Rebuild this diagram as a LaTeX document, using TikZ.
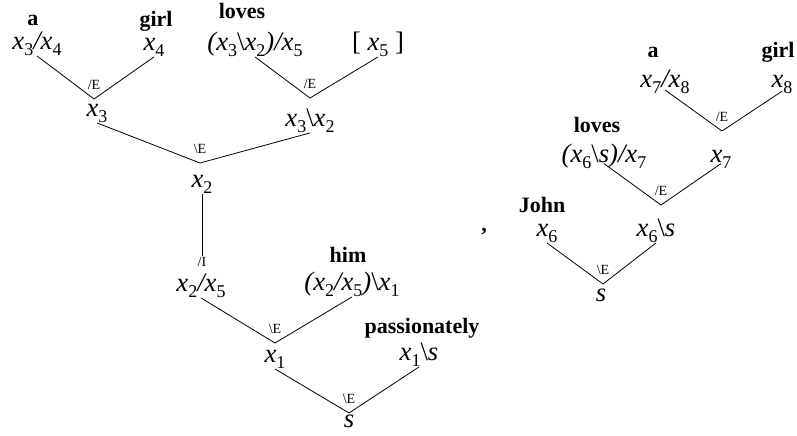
\documentclass[tikz,border=0pt]{standalone}
\usepackage{fontspec}
\setmainfont{Liberation Serif}
\usetikzlibrary{positioning}
\newcommand\sbs[1]{\raisebox{-5pt}{\fontsize{13.5}{14}\selectfont\upshape #1}}
\newcommand\xx[1]{x\sbs{#1}}
\newcommand\bsl{{\upshape\textbackslash}}
\tikzset{frm/.style={font=\fontsize{20}{24}\selectfont\itshape,anchor=base,inner sep=0pt,text depth=5pt},
wrd/.style={font=\fontsize{16.5}{20}\selectfont\bfseries,anchor=base,inner sep=0pt},
rul/.style={font=\fontsize{10.5}{12}\selectfont,inner sep=.5pt},
edge/.style={line width=.6pt}}
\begin{document}
\begin{tikzpicture}[x=.75pt,y=-.75pt]
\useasboundingbox (0,0) rectangle (797,436);
\node[wrd] (wa) at (33,25) {a};
\node[wrd] (wgirl) at (156,26) {girl};
\node[wrd] (wloves) at (242,18) {loves};
\node[frm] (f34) at (37,49) {\xx{3}/\xx{4}};
\node[frm] (f4) at (154,50) {\xx{4}};
\node[frm] (f325) at (255,50) {(\xx{3}\bsl\xx{2})/\xx{5}};
\node[frm] (f5) at (378,50) {\upshape[ \itshape\xx{5} \upshape]};
\coordinate (j1) at (94,99);
\coordinate (j2) at (310,98);
\node[rul,above=6pt] (r1) at (j1) {/E};
\node[rul,above=6pt] (r2) at (j2) {/E};
\draw[edge] (f34.south) -- (j1) -- (f4.south);
\draw[edge] (f325.south) -- (j2) -- (f5.south);
\node[frm] (f3) at (97,116) {\xx{3}};
\node[frm] (f32) at (310,126) {\xx{3}\bsl\xx{2}};
\coordinate (j3) at (200,163);
\node[rul,above=6pt] (r3) at (j3) {\textbackslash E};
\draw[edge] (f3.south) -- (j3) -- (f32.south);
\node[frm] (f2) at (202,187) {\xx{2}};
\coordinate (j4) at (202,256);
\node[rul,below=0pt] (r4) at (j4) {/I};
\draw[edge] (f2.south) -- (j4);
\node[wrd] (whim) at (348,262) {him};
\node[frm] (f25) at (201,291) {\xx{2}/\xx{5}};
\node[frm] (f251) at (352,290) {(\xx{2}/\xx{5})\bsl\xx{1}};
\coordinate (j5) at (275,343);
\node[rul,above=6pt] (r5) at (j5) {\textbackslash E};
\draw[edge] (f25.south) -- (j5) -- (f251.south);
\node[wrd] (wpass) at (422,333) {passionately};
\node[frm] (f1) at (275,362) {\xx{1}};
\node[frm] (f1s) at (419,360) {\xx{1}\bsl s};
\coordinate (j6) at (349,413);
\node[rul,above=6pt] (r6) at (j6) {\textbackslash E};
\draw[edge] (f1.south) -- (j6) -- (f1s.south);
\node[frm] (fs) at (349,427) {s};
\node[wrd] (comma) at (484,231) {,};
\node[wrd] (wa2) at (653,57) {a};
\node[wrd] (wgirl2) at (778,57) {girl};
\node[frm,text depth=2pt] (g78) at (665,87) {\xx{7}/\xx{8}};
\node[frm,text depth=3pt] (g8) at (782,87) {\xx{8}};
\coordinate (k1) at (722,131);
\node[rul,above=6pt] (q1) at (k1) {/E};
\draw[edge] (g78.south) -- (k1) -- (g8.south);
\node[wrd] (wloves2) at (597,132) {loves};
\node[frm,text depth=1pt] (g6s7) at (604,162) {(\xx{6}\bsl s)/\xx{7}};
\node[frm,text depth=1pt] (g7) at (721,162) {\xx{7}};
\coordinate (k2) at (661,205);
\node[rul,above=6pt] (q2) at (k2) {/E};
\draw[edge] (g6s7.south) -- (k2) -- (g7.south);
\node[wrd] (wjohn) at (542,212) {John};
\node[frm] (g6) at (547,236) {\xx{6}};
\node[frm] (g6s) at (656,236) {\xx{6}\bsl s};
\coordinate (k3) at (603,284);
\node[rul,above=6pt] (q3) at (k3) {\textbackslash E};
\draw[edge] (g6.south) -- (k3) -- (g6s.south);
\node[frm] (gs) at (601,301) {s};
\end{tikzpicture}
\end{document}
